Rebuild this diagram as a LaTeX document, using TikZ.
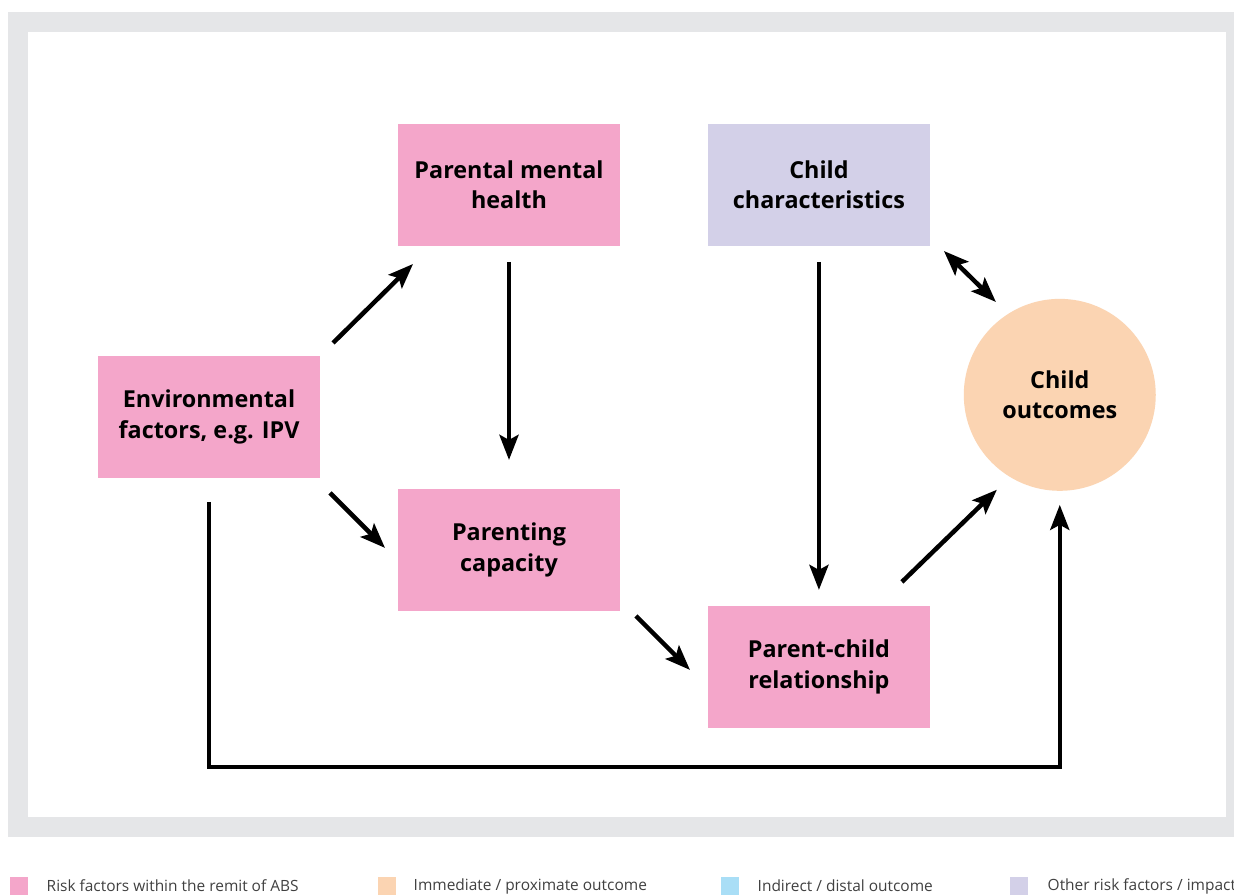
\documentclass[tikz,border=0pt]{standalone}
\usepackage{fontspec}
\setmainfont{Open Sans}
\usepackage{xcolor}
\usetikzlibrary{positioning}
\usetikzlibrary{arrows.meta}
\usetikzlibrary{calc}
\definecolor{riskpink}{HTML}{F4A6CA}
\definecolor{otherlilac}{HTML}{D3D0E8}
\definecolor{outpeach}{HTML}{FBD4B2}
\definecolor{distblue}{HTML}{A9DEF6}
\definecolor{framegrey}{HTML}{E5E6E8}
\tikzset{
	block/.style={
		rectangle,
		align=center,
		minimum width=4.44cm,
		minimum height=2.44cm,
		inner sep=0pt,
		outer sep=0pt,
		font=\fontsize{13.3}{17.2}\selectfont\bfseries
	},
	link/.style={
		-{Stealth[length=0.5cm,width=0.38cm,inset=0.1cm]},
		line width=0.09cm
	},
	bothlink/.style={
		{Stealth[length=0.5cm,width=0.38cm,inset=0.1cm]}-{Stealth[length=0.5cm,width=0.38cm,inset=0.1cm]},
		line width=0.09cm
	},
	legendbox/.style={
		fill=#1,
		minimum size=0.36cm,
		inner sep=0pt
	},
	legendtext/.style={
		anchor=west,
		inner sep=0pt,
		text=black!75,
		font=\fontsize{8.8}{10}\selectfont
	}
}

\begin{document}
\begin{tikzpicture}[x=0.02cm,y=-0.02cm]
		\clip (0,0) rectangle (1234,895);
		% frame
		\fill[framegrey] (8,12) rectangle (1240,837);
		\fill[white] (28,32) rectangle (1226,817);

		\draw node[block, fill=riskpink] (ParentMental) at (509,185) {Parental mental\\ health};
		\draw node[block, fill=otherlilac, right=1.76cm of ParentMental] (ChildChar) {Child\\ characteristics};
		\draw node[block, fill=riskpink, below left=2.2cm and 1.56cm of ParentMental] (Environ) {Environmental\\ factors, e.g. IPV};
		\draw node[block, fill=riskpink, below=4.86cm of ParentMental] (Parenting) {Parenting\\ capacity};
		\draw node[block, fill=riskpink, below=7.2cm of ChildChar] (ParentChild) {Parent-child\\ relationship};
		\draw node[circle, fill=outpeach, minimum size=3.84cm, inner sep=0pt, outer sep=0pt, align=center, font=\fontsize{13.3}{17.2}\selectfont\bfseries, below right=1.62cm and 1.24cm of ChildChar] (Outcomes) {Child\\ outcomes};

		\draw [link] ($(Environ.north east)+(13,-13)$) -- ($(ParentMental.south west)+(15,18)$);
		\draw [link] ($(Environ.south east)+(10,15)$) -- ($(Parenting.west)+(-13,-2)$);
		\draw [link] ($(ParentMental.south)+(0,16)$) -- ($(Parenting.north)+(0,-29)$);
		\draw [link] ($(ChildChar.south)+(0,16)$) -- ($(ParentChild.north)+(0,-16)$);
		\draw [link] ($(Parenting.south east)+(16,5)$) -- ($(ParentChild.west)+(-18,3)$);
		\draw [link] ($(ParentChild.north east)+(-28,-24)$) -- ($(Outcomes.south west)+(5,27)$);
		\draw [bothlink] ($(ChildChar.south east)+(14,5)$) -- ($(Outcomes.north west)+(4,-25)$);
		\draw [link] ($(Environ.south)+(0,24)$) -- ++(0,265) -| ($(Outcomes.south)+(0,14)$);

		% legend
		\node[legendbox=riskpink] (KeyRisk) at (19,886) {};
		\node[legendtext, right=0.36cm of KeyRisk] (KeyRiskText) {Risk factors within the remit of ABS};
		\node[legendbox=outpeach] (KeyNear) at (387,886) {};
		\node[legendtext, right=0.34cm of KeyNear] (KeyNearText) {Immediate / proximate outcome};
		\node[legendbox=distblue] (KeyFar) at (730,886) {};
		\node[legendtext, right=0.36cm of KeyFar] (KeyFarText) {Indirect / distal outcome};
		\node[legendbox=otherlilac] (KeyOther) at (1019,886) {};
		\node[legendtext, right=0.38cm of KeyOther] (KeyOtherText) {Other risk factors / impact};
	\end{tikzpicture}
\end{document}
